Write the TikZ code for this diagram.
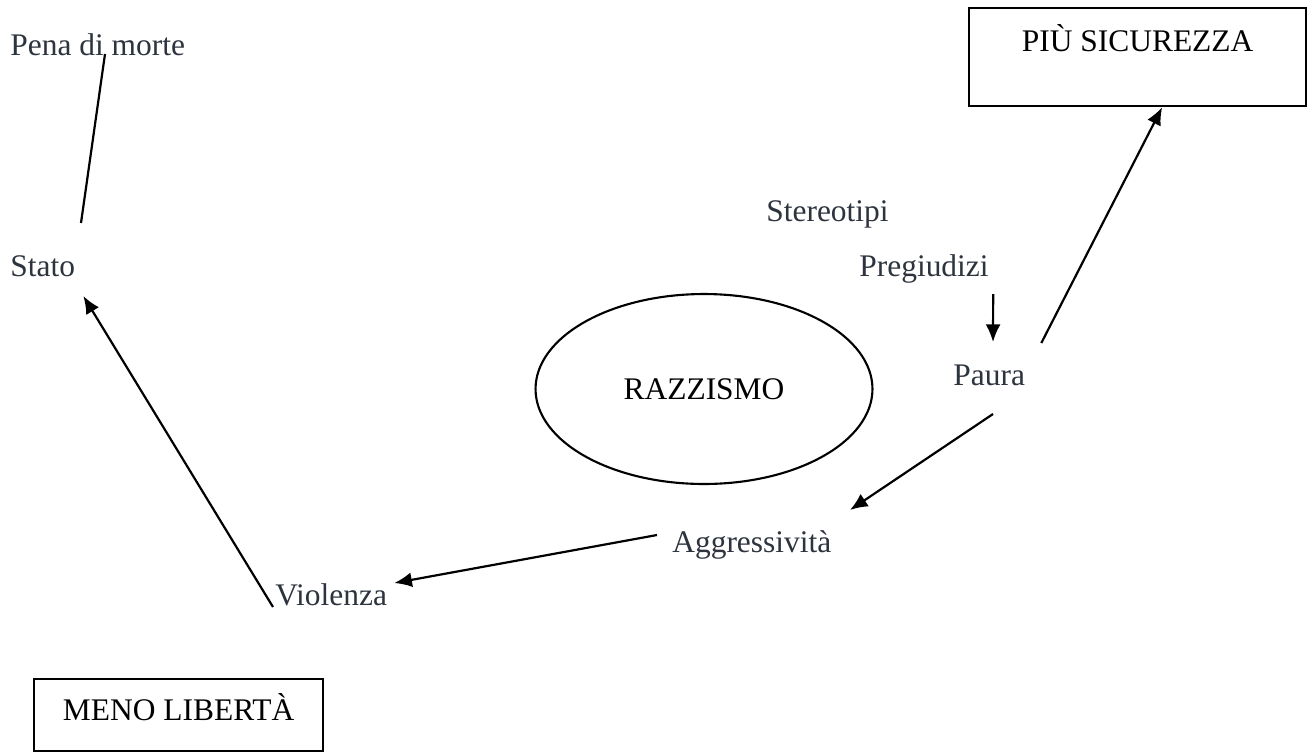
\documentclass[tikz,border=0pt]{standalone}
\usepackage{fontspec}
\setmainfont{Liberation Serif}
\usetikzlibrary{shapes,arrows.meta,positioning}
\definecolor{wordink}{RGB}{45,52,62}
\tikzset{
  word/.style={inner sep=0pt, anchor=base west, text=wordink, font=\fontsize{17.9}{21}\selectfont},
  tag/.style={draw, line width=1.3pt, inner sep=0pt, anchor=north west, font=\fontsize{17.9}{21}\selectfont},
  link/.style={->, line width=1.25pt, >={Latex[length=10pt,width=8.5pt]}}
}

\begin{document}
\begin{tikzpicture}[x=0.02cm, y=-0.02cm]
		\useasboundingbox (0,0) rectangle (1310,751);
		\node[word] (pena) at (10,55) {Pena di morte};
		\node[word] (stato) at (10,276) {Stato};
		\node[word] (stereo) at (766,221) {Stereotipi};
		\node[word] (preg) at (859,276) {Pregiudizi};
		\node[word] (paura) at (953,385) {Paura};
		\node[word] (aggr) at (672,552) {Aggressività};
		\node[word] (viol) at (275,605) {Violenza};
		\node[draw, ellipse, line width=1.2pt, inner sep=0pt, minimum width=6.74cm, minimum height=3.8cm, font=\fontsize{17.9}{21}\selectfont] (razz) at (704,389) {RAZZISMO};
		\node[tag, minimum width=6.74cm, text height=0.86cm, text depth=1.1cm] (piu) at (968,7) {PIÙ SICUREZZA};
		\node[tag, minimum width=5.78cm, text height=0.82cm, text depth=0.62cm] (meno) at (33,678) {MENO LIBERTÀ};
		% links:
		\draw[line width=1.25pt] ([shift={(95,-1)}]pena.base west) -- ([shift={(71,-53)}]stato.base west);
		\draw[link] ([shift={(-2,2)}]viol.base west) -- ([shift={(8,20)}]stato.base east);
		\draw[link] ([shift={(-15,-17)}]aggr.base west) -- ([shift={(7,-22)}]viol.base east);
		\draw[link] ([shift={(40,29)}]paura.base west) -- ([shift={(178,-42)}]aggr.base west);
		\draw[link] ([shift={(4.2,18)}]preg.base east) -- ([shift={(40,-43)}]paura.base west);
		\draw[link] ([shift={(16,-42)}]paura.base east) -- ([xshift=0.49cm]piu.south);
\end{tikzpicture}
\end{document}
